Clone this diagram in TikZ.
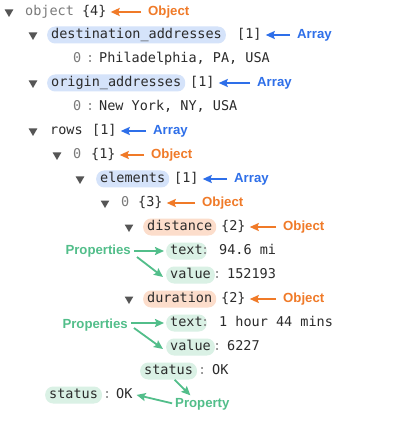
\documentclass[tikz,border=0pt]{standalone}
\usepackage{fontspec}
\usetikzlibrary{arrows.meta,shapes.geometric}
\newfontfamily\monofnt{DejaVu Sans Mono}
\newfontfamily\lblfnt{Liberation Sans}
\definecolor{ink}{HTML}{2B2B2B}
\definecolor{gry}{HTML}{7A7A7A}
\definecolor{colg}{HTML}{8A8A8A}
\definecolor{trig}{HTML}{555555}
\definecolor{orng}{HTML}{F07A28}
\definecolor{blu}{HTML}{2E6FE9}
\definecolor{grn}{HTML}{52BE8A}
\definecolor{bpill}{HTML}{D5E3FA}
\definecolor{opill}{HTML}{FCDDCB}
\definecolor{gpill}{HTML}{DAF1E5}
\tikzset{
  mono/.style={font=\monofnt\fontsize{13.5}{16}\selectfont, inner sep=0pt, text height=10pt, text depth=3pt, text=ink, anchor=west},
  idx/.style={mono, text=gry},
  colon/.style={mono, text=colg},
  pill/.style={mono, inner xsep=4pt, inner ysep=2pt, rounded corners=8pt},
  pillb/.style={pill, fill=bpill},
  pillo/.style={pill, fill=opill},
  pillg/.style={pill, fill=gpill},
  tri/.style={regular polygon, regular polygon sides=3, shape border rotate=180, fill=trig, inner sep=0pt, minimum size=10pt},
  lbl/.style={font=\lblfnt\bfseries\fontsize{13.2}{15}\selectfont, inner sep=0pt, text height=10pt, text depth=3pt, anchor=west},
  lblo/.style={lbl, text=orng},
  lblb/.style={lbl, text=blu},
  lblg/.style={lbl, text=grn},
  arr/.style={line width=1.8pt, -{Stealth[length=9pt, width=8pt, inset=1.5pt]}, shorten >=4pt, shorten <=7pt},
  oarr/.style={arr, draw=orng},
  barr/.style={arr, draw=blu},
  garr/.style={arr, draw=grn, shorten <=3pt, shorten >=2pt},
}
\begin{document}
\begin{tikzpicture}[x=1pt, y=-1pt]
\useasboundingbox[fill=white] (0,0) rectangle (412,430);
% row 1
\node[tri] (t1) at (9,12) {};
\node[mono] (n1) at (25,12) {\textcolor{gry}{object} \{4\}};
\node[lblo] (l1) at (148,12) {Object};
% row 2
\node[tri] (t2) at (33,35) {};
\node[pillb] (k2) at (47,35) {destination\_addresses};
\node[mono] (c2) at (237,35) {[1]};
\node[lblb] (l2) at (297,35) {Array};
% row 3
\node[idx] (i3) at (73,59) {0};
\node[colon] (p3) at (86,59) {:};
\node[mono] (v3) at (99,59) {Philadelphia, PA, USA};
% row 4
\node[tri] (t4) at (33,83) {};
\node[pillb] (k4) at (47,83) {origin\_addresses};
\node[mono] (c4) at (190,83) {[1]};
\node[lblb] (l4) at (257,83) {Array};
% row 5
\node[idx] (i5) at (73,107) {0};
\node[colon] (p5) at (86,107) {:};
\node[mono] (v5) at (99,107) {New York, NY, USA};
% row 6
\node[tri] (t6) at (33,131) {};
\node[mono] (k6) at (50,131) {rows};
\node[mono] (c6) at (92,131) {[1]};
\node[lblb] (l6) at (153,131) {Array};
% row 7
\node[tri] (t7) at (57,155) {};
\node[idx] (i7) at (73,155) {0};
\node[mono] (c7) at (91,155) {\{1\}};
\node[lblo] (l7) at (151,155) {Object};
% row 8
\node[tri] (t8) at (80,179) {};
\node[pillb] (k8) at (96,179) {elements};
\node[mono] (c8) at (174,179) {[1]};
\node[lblb] (l8) at (234,179) {Array};
% row 9
\node[tri] (t9) at (105,203) {};
\node[idx] (i9) at (121,203) {0};
\node[mono] (c9) at (138,203) {\{3\}};
\node[lblo] (l9) at (202,203) {Object};
% row 10
\node[tri] (t10) at (129,227) {};
\node[pillo] (k10) at (143,227) {distance};
\node[mono] (c10) at (221,227) {\{2\}};
\node[lblo] (l10) at (283,227) {Object};
% row 11
\node[pillg] (k11) at (166,251) {text};
\node[colon] (p11) at (201,251) {:};
\node[mono] (v11) at (219,251) {94.6 mi};
\node[lblg, anchor=east] (g1) at (131,251) {Properties};
% row 12
\node[pillg] (k12) at (166,275) {value};
\node[colon] (p12) at (213,275) {:};
\node[mono] (v12) at (227,275) {152193};
% row 13
\node[tri] (t13) at (129,299) {};
\node[pillo] (k13) at (143,299) {duration};
\node[mono] (c13) at (221,299) {\{2\}};
\node[lblo] (l13) at (283,299) {Object};
% row 14
\node[pillg] (k14) at (166,323) {text};
\node[colon] (p14) at (201,323) {:};
\node[mono] (v14) at (219,323) {1 hour 44 mins};
\node[lblg, anchor=east] (g2) at (128,325) {Properties};
% row 15
\node[pillg] (k15) at (166,347) {value};
\node[colon] (p15) at (213,347) {:};
\node[mono] (v15) at (227,347) {6227};
% row 16
\node[pillg] (k16) at (140,371) {status};
\node[colon] (p16) at (198,371) {:};
\node[mono] (v16) at (212,371) {OK};
% row 17
\node[pillg] (k17) at (45,395) {status};
\node[colon] (p17) at (103,395) {:};
\node[mono] (v17) at (116,395) {OK};
\node[lblg] (g3) at (175,404) {Property};
% arrows
\draw[oarr] (l1.west) -- (n1.east);
\draw[barr] (l2.west) -- (c2.east);
\draw[barr] (l4.west) -- (c4.east);
\draw[barr] (l6.west) -- (c6.east);
\draw[oarr] (l7.west) -- (c7.east);
\draw[barr] (l8.west) -- (c8.east);
\draw[oarr] (l9.west) -- (c9.east);
\draw[oarr] (l10.west) -- (c10.east);
\draw[oarr] (l13.west) -- (c13.east);
\draw[garr] (g1.east) -- (k11.west);
\draw[garr, shorten <=0pt, shorten >=0pt] ([xshift=6pt, yshift=-6pt]g1.east) -- ([xshift=-3pt, yshift=-2pt]k12.west);
\draw[garr] ([yshift=2pt]g2.east) -- (k14.west);
\draw[garr, shorten <=0pt, shorten >=0pt] ([xshift=6pt, yshift=-3pt]g2.east) -- ([xshift=-3pt, yshift=-2pt]k15.west);
\draw[garr, shorten <=0pt, shorten >=0pt] ([xshift=6pt]k16.south) -- ([xshift=-12pt, yshift=2pt]g3.north);
\draw[garr, shorten <=3pt, shorten >=4pt] (g3.west) -- ([yshift=1pt]v17.east);
\end{tikzpicture}
\end{document}
